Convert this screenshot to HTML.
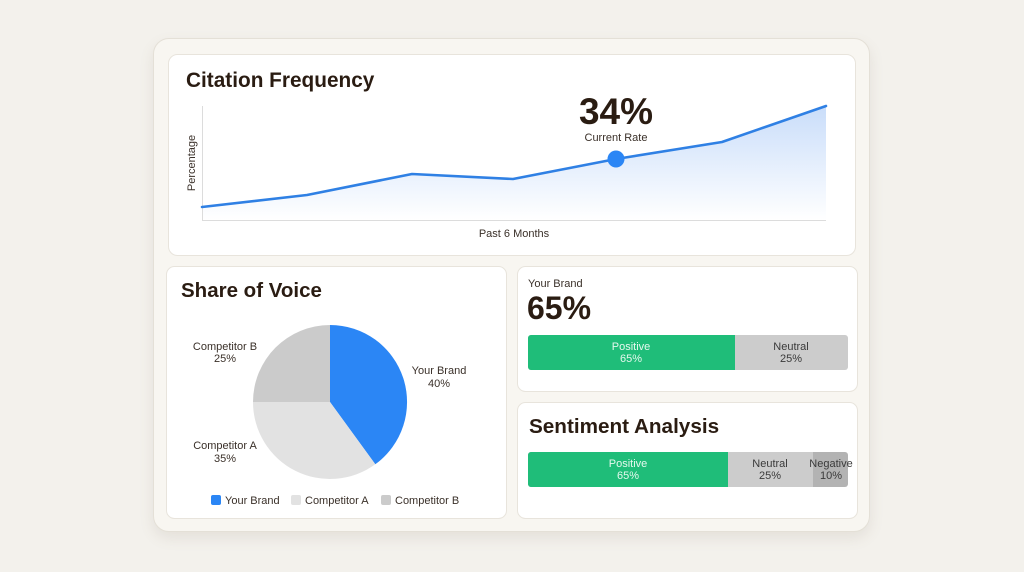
<!DOCTYPE html>
<html>
<head>
<meta charset="utf-8">
<style>
  html,body{margin:0;padding:0;}
  body{width:1024px;height:572px;background:#f3f1ec;position:relative;overflow:hidden;font-family:"Liberation Sans",Arial,sans-serif;}
  .outer{position:absolute;left:153px;top:38px;width:717px;height:494px;border-radius:16px;background:#f8f6f1;border:1px solid #e4e0d7;box-sizing:border-box;box-shadow:0 6px 14px rgba(120,110,90,0.12);}
  svg{position:absolute;left:0;top:0;}
</style>
</head>
<body>
<div class="outer"></div>
<svg width="1024" height="572" viewBox="0 0 1024 572" xmlns="http://www.w3.org/2000/svg" font-family="Liberation Sans, Arial, sans-serif">
  <defs>
    <linearGradient id="area" x1="0" y1="0" x2="0" y2="1">
      <stop offset="0" stop-color="#c9ddfa"/>
      <stop offset="1" stop-color="#ffffff"/>
    </linearGradient>
  </defs>

  <!-- Card 1: Citation Frequency -->
  <rect x="168.5" y="54.5" width="687" height="201" rx="9" fill="#ffffff" stroke="#e8e4dc"/>
  <text x="186" y="87" font-size="20.8" font-weight="bold" fill="#2a1c12">Citation Frequency</text>
  <polygon points="202,207 307,195 412,174 513,179 616,159 722,142 826,106 826,220 202,220" fill="url(#area)"/>
  <line x1="202.5" y1="106" x2="202.5" y2="220" stroke="#dcdcdc" stroke-width="1"/>
  <line x1="202" y1="220.5" x2="826" y2="220.5" stroke="#dcdcdc" stroke-width="1"/>
  <polyline points="202,207 307,195 412,174 513,179 616,159 722,142 826,106" fill="none" stroke="#2f80e4" stroke-width="2.6" stroke-linejoin="round" stroke-linecap="round"/>
  <circle cx="616" cy="159" r="8.5" fill="#2b86f5"/>
  <text x="616" y="124" font-size="37" font-weight="bold" fill="#2a1c12" text-anchor="middle">34%</text>
  <text x="616" y="141" font-size="11" fill="#3a3029" text-anchor="middle">Current Rate</text>
  <text transform="translate(195,163) rotate(-90)" font-size="11" fill="#3a3029" text-anchor="middle">Percentage</text>
  <text x="514" y="237" font-size="11" fill="#3a3029" text-anchor="middle">Past 6 Months</text>

  <!-- Card 2: Share of Voice -->
  <rect x="166.5" y="266.5" width="340" height="252" rx="8" fill="#ffffff" stroke="#e8e4dc"/>
  <text x="181" y="297" font-size="20.5" font-weight="bold" fill="#2a1c12">Share of Voice</text>
  <path d="M330,402 L330,325 A77,77 0 0,1 375.3,464.3 Z" fill="#2b86f5"/>
  <path d="M330,402 L375.3,464.3 A77,77 0 0,1 253,402 Z" fill="#e2e2e2"/>
  <path d="M330,402 L253,402 A77,77 0 0,1 330,325 Z" fill="#cbcbcb"/>
  <text x="225" y="350" font-size="11" fill="#3a3029" text-anchor="middle">Competitor B</text>
  <text x="225" y="362" font-size="11" fill="#3a3029" text-anchor="middle">25%</text>
  <text x="439" y="374" font-size="11" fill="#3a3029" text-anchor="middle">Your Brand</text>
  <text x="439" y="387" font-size="11" fill="#3a3029" text-anchor="middle">40%</text>
  <text x="225" y="449" font-size="11" fill="#3a3029" text-anchor="middle">Competitor A</text>
  <text x="225" y="462" font-size="11" fill="#3a3029" text-anchor="middle">35%</text>
  <rect x="211" y="495" width="10" height="10" rx="2" fill="#2b86f5"/>
  <text x="225" y="504" font-size="11" fill="#3a3029">Your Brand</text>
  <rect x="291" y="495" width="10" height="10" rx="2" fill="#e2e2e2"/>
  <text x="305" y="504" font-size="11" fill="#3a3029">Competitor A</text>
  <rect x="381" y="495" width="10" height="10" rx="2" fill="#cbcbcb"/>
  <text x="395" y="504" font-size="11" fill="#3a3029">Competitor B</text>

  <!-- Card 3: Your Brand -->
  <rect x="517.5" y="266.5" width="340" height="125" rx="8" fill="#ffffff" stroke="#e8e4dc"/>
  <text x="528" y="287" font-size="11" fill="#3a3029">Your Brand</text>
  <text x="527" y="319" font-size="32" font-weight="bold" fill="#2a1c12">65%</text>
  <rect x="528" y="335" width="320" height="35" rx="3" fill="#cccccc"/>
  <path d="M531,335 H735 V370 H531 A3,3 0 0,1 528,367 V338 A3,3 0 0,1 531,335 Z" fill="#1fbd79"/>
  <text x="631" y="350" font-size="11" fill="#e6f8ee" text-anchor="middle">Positive</text>
  <text x="631" y="362" font-size="11" fill="#e6f8ee" text-anchor="middle">65%</text>
  <text x="791" y="350" font-size="11" fill="#3a3a3a" text-anchor="middle">Neutral</text>
  <text x="791" y="362" font-size="11" fill="#3a3a3a" text-anchor="middle">25%</text>

  <!-- Card 4: Sentiment Analysis -->
  <rect x="517.5" y="402.5" width="340" height="116" rx="8" fill="#ffffff" stroke="#e8e4dc"/>
  <text x="529" y="433" font-size="20.7" font-weight="bold" fill="#2a1c12">Sentiment Analysis</text>
  <rect x="528" y="452" width="320" height="35" rx="3" fill="#b3b3b3"/>
  <rect x="728" y="452" width="85" height="35" fill="#cccccc"/>
  <path d="M531,452 H728 V487 H531 A3,3 0 0,1 528,484 V455 A3,3 0 0,1 531,452 Z" fill="#1fbd79"/>
  <text x="628" y="467" font-size="11" fill="#e6f8ee" text-anchor="middle">Positive</text>
  <text x="628" y="479" font-size="11" fill="#e6f8ee" text-anchor="middle">65%</text>
  <text x="770" y="467" font-size="11" fill="#3a3a3a" text-anchor="middle">Neutral</text>
  <text x="770" y="479" font-size="11" fill="#3a3a3a" text-anchor="middle">25%</text>
  <text x="831" y="467" font-size="11" fill="#3a3a3a" text-anchor="middle">Negative</text>
  <text x="831" y="479" font-size="11" fill="#3a3a3a" text-anchor="middle">10%</text>
</svg>
</body>
</html>
